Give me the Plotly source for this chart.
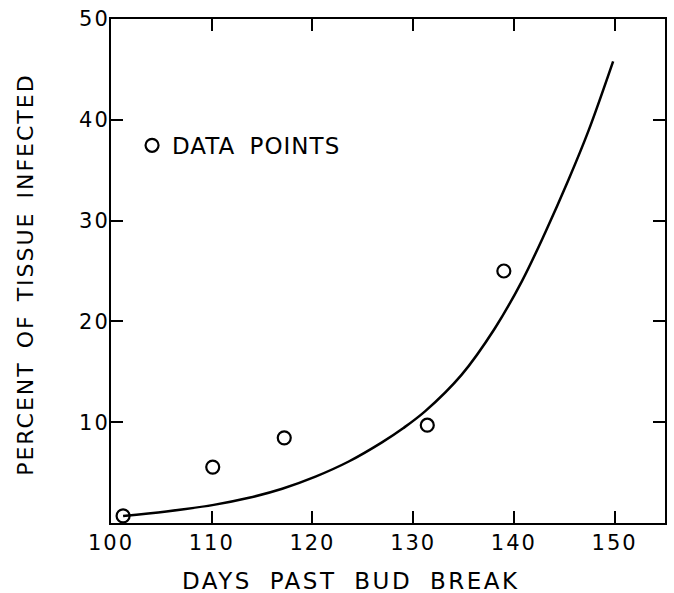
import plotly.graph_objects as go

# Observed data points
days_obs = [101.2, 110.1, 117.2, 131.4, 139.0]
pct_obs = [0.7, 5.55, 8.45, 9.7, 25.0]

# Fitted curve
days_fit = [101.2, 105.5, 110.2, 113.7, 117, 120.3, 123.6, 126.9, 129, 131.2,
            134.8, 138.1, 140.8, 143.1, 145.4, 147.4, 149.85]
pct_fit = [0.7, 1.15, 1.8, 2.5, 3.4, 4.6, 6.1, 8.0, 9.4, 11.1,
           14.7, 19.3, 24.0, 28.8, 34.0, 38.9, 45.8]

x_ticks = [100, 110, 120, 130, 140, 150]
y_ticks = [10, 20, 30, 40, 50]

FONT = "DejaVu Sans"
SP = "letter-spacing:2px"

fig = go.Figure()
fig.add_trace(go.Scatter(
    x=days_fit, y=pct_fit, mode="lines",
    line=dict(color="black", width=2.5, shape="spline", smoothing=1.0),
    showlegend=False, hoverinfo="skip"))
fig.add_trace(go.Scatter(
    x=days_obs, y=pct_obs, mode="markers",
    marker=dict(symbol="circle-open", size=13, color="black", line=dict(width=2.2, color="black")),
    name='<span style="letter-spacing:1px;word-spacing:6px">DATA POINTS</span>'))

axis_common = dict(showline=True, linecolor="black", linewidth=2, mirror="ticks",
                   ticks="inside", ticklen=12, tickwidth=2, tickcolor="black",
                   showgrid=False, zeroline=False,
                   tickfont=dict(family=FONT, size=21, color="black"))

fig.update_xaxes(range=[100, 155], tickvals=x_ticks,
                 ticktext=[f'<span style="{SP}">{v}</span>' for v in x_ticks], **axis_common)
fig.update_yaxes(range=[0, 50], tickvals=y_ticks, ticklabelstandoff=-5,
                 ticktext=[f'<span style="{SP}">{v}</span>' for v in y_ticks], **axis_common)

fig.update_layout(
    width=674, height=593,
    margin=dict(l=111, r=7, t=16, b=70),
    paper_bgcolor="white", plot_bgcolor="white",
    font=dict(family=FONT, color="black"),
    legend=dict(x=0.038, y=0.792, xanchor="left", yanchor="top",
                font=dict(family=FONT, size=23, color="black"),
                bgcolor="rgba(0,0,0,0)", borderwidth=0),
    annotations=[
        dict(text='<span style="letter-spacing:2.5px;word-spacing:8px">DAYS PAST BUD BREAK</span>',
             xref="paper", yref="paper", x=0.4335, y=-0.1144, xanchor="center", yanchor="middle",
             showarrow=False, font=dict(family=FONT, size=23, color="black")),
        dict(text='<span style="letter-spacing:2px;word-spacing:4px">PERCENT OF TISSUE INFECTED</span>',
             xref="paper", yref="paper", x=-0.1547, y=0.493, xanchor="center", yanchor="middle",
             textangle=-90, showarrow=False, font=dict(family=FONT, size=22, color="black")),
    ],
)

fig.write_html("out.html", config={"displayModeBar": False},
               post_script="document.body.style.margin='0';document.body.style.overflow='hidden';")
